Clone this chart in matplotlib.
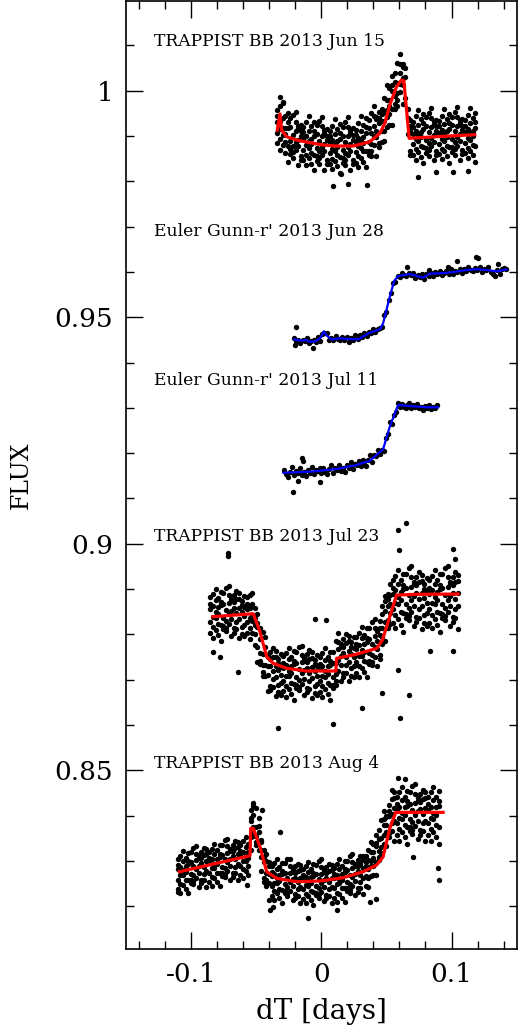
import numpy as np
import matplotlib
matplotlib.use('Agg')
import matplotlib.pyplot as plt
from matplotlib.ticker import MultipleLocator

# units: time in 1e-4 days, TRAPPIST flux in 1e-4, Euler flux and models in 1e-5

# ---- TRAPPIST BB 2013 Jun 15 : (time, [fluxes at that time])
jun15_rows = [
    (-336, [9957, 9907, 9930, 9884, 9945]), (-316, [9915, 9966, 9893, 9934, 9870]),
    (-296, [9940, 9880, 9973, 9903, 9918]), (-276, [9886, 9917, 9862, 9945, 9905]),
    (-256, [9917, 9842, 9930, 9877, 9950]), (-236, [9860, 9920, 9889, 9939, 9871]),
    (-216, [9903, 9864, 9946, 9879, 9851]), (-196, [9932, 9887, 9869, 9911, 9954]),
    (-176, [9877, 9923, 9836, 9892, 9917]), (-156, [9910, 9847, 9900, 9856, 9925]),
    (-136, [9920, 9870, 9893, 9847, 9908]), (-116, [9880, 9931, 9858, 9899, 9835]),
    (-96, [9911, 9851, 9944, 9874, 9889]), (-76, [9863, 9894, 9839, 9922, 9882]),
    (-56, [9899, 9824, 9912, 9859, 9932]), (-36, [9845, 9905, 9874, 9924, 9856]),
    (-16, [9890, 9851, 9933, 9866, 9838]), (4, [9921, 9876, 9858, 9900, 9943]),
    (24, [9867, 9913, 9826, 9882, 9907]), (44, [9901, 9838, 9891, 9847, 9916]),
    (64, [9912, 9862, 9885, 9839, 9900]), (84, [9872, 9923, 9850, 9891, 9827]),
    (104, [9904, 9844, 9937, 9867, 9882]), (124, [9857, 9888, 9833, 9916, 9876]),
    (144, [9894, 9819, 9907, 9854, 9927]), (164, [9841, 9901, 9870, 9920, 9852]),
    (184, [9887, 9848, 9930, 9863, 9835]), (204, [9920, 9875, 9857, 9899, 9942]),
    (224, [9867, 9913, 9826, 9882, 9907]), (244, [9902, 9839, 9892, 9848, 9917]),
    (264, [9914, 9864, 9887, 9841, 9902]), (284, [9877, 9928, 9855, 9896, 9832]),
    (304, [9911, 9851, 9944, 9874, 9889]), (324, [9866, 9897, 9842, 9925, 9885]),
    (344, [9906, 9831, 9919, 9866, 9939]), (364, [9857, 9917, 9886, 9936, 9868]),
    (384, [9907, 9868, 9950, 9883, 9855]), (404, [9944, 9899, 9881, 9923, 9966]),
    (424, [9897, 9943, 9856, 9912, 9937]), (444, [9939, 9876, 9929, 9885, 9954]),
    (464, [9960, 9910, 9933, 9887, 9948]), (484, [9933, 9984, 9911, 9952, 9888]),
    (504, [9980, 9920, 10013, 9943, 9958]), (524, [9948, 9979, 9924, 10007, 9967]),
    (544, [10000, 9925, 10013, 9960, 10033]), (564, [9960, 10020, 9989, 10039, 9971]),
    (584, [10018, 9979, 10061, 9994, 9966]), (604, [10060, 10015, 9997, 10039, 10082]),
    (624, [10012, 10058, 9971, 10027, 10052]), (644, [10030, 9985, 10050]),
    (664, [9960, 9905, 9940]), (684, [9921, 9858, 9911, 9867, 9936]),
    (704, [9932, 9882, 9905, 9859, 9920]), (724, [9893, 9944, 9871, 9912, 9848]),
    (744, [9925, 9865, 9958, 9888, 9903]), (764, [9878, 9909, 9854, 9937, 9897]),
    (784, [9915, 9840, 9928, 9875, 9948]), (804, [9862, 9922, 9891, 9941, 9873]),
    (824, [9908, 9869, 9951, 9884, 9856]), (844, [9940, 9895, 9877, 9919, 9962]),
    (864, [9887, 9933, 9846, 9902, 9927]), (884, [9921, 9858, 9911, 9867, 9936]),
    (904, [9933, 9883, 9906, 9860, 9921]), (924, [9894, 9945, 9872, 9913, 9849]),
    (944, [9926, 9866, 9959, 9889, 9904]), (964, [9879, 9910, 9855, 9938, 9898]),
    (984, [9916, 9841, 9929, 9876, 9949]), (1004, [9864, 9924, 9893, 9943, 9875]),
    (1024, [9910, 9871, 9953, 9886, 9858]), (1044, [9942, 9897, 9879, 9921, 9964]),
    (1064, [9889, 9935, 9848, 9904, 9929]), (1084, [9923, 9860, 9913, 9869, 9938]),
    (1104, [9935, 9885, 9908, 9862, 9923]), (1124, [9896, 9947, 9874, 9915, 9851]),
    (1144, [9928, 9868, 9961, 9891, 9906]), (1164, [9881, 9912, 9857, 9940, 9900]),
    (1180, [9918, 9843, 9931, 9878, 9951]),
]
jun15_extra = [(87, 9790), (151, 9816), (207, 9795), (348, 9791), (743, 9810),
               (884, 9821), (1012, 9821), (1126, 9823), (-316, 9987), (-290, 9976)]
jun15_model_t = [-337, -316, -304, -265, -189, -87, 16, 118, 245, 373, 450, 488, 526,
                 578, 616, 634, 675, 884, 1178]
jun15_model_f = [99132, 99486, 99130, 98985, 98912, 98852, 98801, 98779, 98779, 98875,
                 99059, 99280, 99684, 100088, 100236, 100220, 98949, 98985, 99029]

# ---- Euler Gunn-r' 2013 Jun 28
jun28_t = [-209, -195, -178, -160, -143, -126, -110, -93, -76, -59, -42, -26, -9, 8, 25,
           42, 59, 76, 93, 110, 127, 144, 161, 178, 195, 212, 229, 246, 263, 280, 297,
           314, 331, 348, 365, 382, 399, 416, 433, 450, 467, 484, 501, 518, 535, 552,
           569, 586, 603, 620, 637, 654, 671, 688, 705, 722, 739, 756, 773, 790, 807,
           824, 841, 858, 875, 892, 909, 926, 943, 960, 977, 994, 1011, 1028, 1045,
           1062, 1079, 1096, 1113, 1130, 1147, 1164, 1181, 1198, 1215, 1232, 1249,
           1266, 1283, 1300, 1317, 1334, 1351, 1368, 1385, 1402, 1419,
           -194, -200, -66, 659, 828, 973, 1042, 1185, 1203, 1356]
jun28_f = [94552, 94470, 94505, 94425, 94508, 94478, 94547, 94421, 94466, 94496, 94445,
           94570, 94480, 94627, 94658, 94641, 94504, 94539, 94486, 94582, 94528, 94494,
           94565, 94506, 94571, 94463, 94540, 94508, 94605, 94511, 94615, 94570, 94643,
           94590, 94677, 94650, 94743, 94667, 94732, 94761, 94795, 95040, 95120, 95375,
           95533, 95765, 95768, 95918, 95885, 95984, 95933, 95901, 95984, 95925, 95980,
           95859, 95923, 95877, 95956, 95852, 95956, 95915, 95971, 95904, 95991, 95953,
           96024, 95928, 95982, 96011, 95960, 96059, 95949, 96023, 96007, 96071, 95965,
           96058, 96012, 96105, 96048, 96011, 96089, 96038, 96106, 95997, 96072, 96037,
           96118, 95995, 95944, 95918, 96040, 95952, 96054, 96086, 96067,
           94791, 94386, 94313, 96101, 96042, 96116, 96248, 96322, 96300, 96174]
jun28_model_t = [-209, -150, -120, -87, -40, 0, 20, 40, 80, 143, 200, 284, 373, 450, 475,
                 526, 560, 590, 680, 782, 830, 910, 1000, 1114, 1200, 1267, 1350, 1421]
jun28_model_f = [94512, 94480, 94500, 94459, 94470, 94560, 94690, 94600, 94510, 94534,
                 94520, 94512, 94658, 94731, 94865, 95453, 95800, 95909, 95953, 95872,
                 95960, 95969, 95990, 96042, 96060, 96042, 96010, 96057]

# ---- Euler Gunn-r' 2013 Jul 11
jul11_t = [-283, -268, -253, -238, -223, -208, -193, -178, -163, -148, -133, -118, -103,
           -88, -73, -58, -43, -28, -13, 2, 17, 32, 47, 62, 77, 92, 107, 122, 137, 152,
           167, 182, 197, 212, 227, 242, 257, 272, 287, 302, 317, 332, 347, 362, 377,
           392, 407, 422, 437, 452, 467, 482, 497, 512, 527, 542, 557, 572, 587, 602,
           617, 632, 647, 662, 677, 692, 707, 722, 737, 752, 767, 782, 797, 812, 827,
           842, 857, 872, 887, -214, -150, -138, -176, -10]
jul11_f = [91628, 91529, 91481, 91593, 91684, 91506, 91613, 91559, 91661, 91527, 91589,
           91486, 91632, 91559, 91688, 91532, 91627, 91596, 91681, 91570, 91679, 91584,
           91538, 91653, 91747, 91571, 91681, 91631, 91740, 91614, 91682, 91586, 91739,
           91673, 91807, 91655, 91754, 91728, 91822, 91721, 91840, 91754, 91718, 91842,
           91952, 91809, 91951, 91933, 92070, 91972, 92069, 92052, 92344, 92416, 92685,
           92638, 92840, 92917, 93110, 93014, 93091, 93028, 92994, 93057, 93107, 92995,
           93055, 93019, 93075, 92991, 93023, 92957, 93040, 92993, 93068, 92972, 93026,
           93005, 93053, 91148, 91890, 91830, 91380, 91360]
jul11_model_t = [-291, -87, 118, 271, 373, 475, 526, 590, 680, 808, 897]
jul11_model_f = [91567, 91589, 91649, 91737, 91832, 92084, 92583, 93062, 93040, 93011,
                 93011]

# ---- TRAPPIST BB 2013 Jul 23
jul23_rows = [
    (-850, [8882, 8827, 8855, 8803, 8866]), (-830, [8839, 8889, 8816, 8862, 8792]),
    (-810, [8875, 8810, 8900, 8837, 8850]), (-790, [8823, 8860, 8799, 8881, 8844]),
    (-770, [8864, 8786, 8872, 8820, 8893]), (-750, [8812, 8867, 8836, 8892, 8819]),
    (-730, [8854, 8815, 8903, 8830, 8807]), (-710, [8886, 8845, 8822, 8869, 8906]),
    (-690, [8833, 8878, 8797, 8852, 8873]), (-670, [8871, 8804, 8857, 8813, 8887]),
    (-650, [8846, 8896, 8828, 8877, 8811]), (-630, [8891, 8834, 8791, 8858, 8879]),
    (-610, [8817, 8874, 8849, 8801, 8865]), (-590, [8860, 8821, 8885, 8840, 8796]),
    (-570, [8882, 8827, 8855, 8803, 8866]), (-550, [8836, 8886, 8813, 8859, 8789]),
    (-530, [8867, 8802, 8892, 8829, 8842]), (-510, [8800, 8837, 8776, 8858, 8821]),
    (-490, [8816, 8738, 8824, 8772, 8845]), (-470, [8734, 8789, 8758, 8814, 8741]),
    (-450, [8756, 8717, 8805, 8732, 8709]), (-430, [8773, 8732, 8709, 8756, 8793]),
    (-410, [8710, 8755, 8674, 8729, 8750]), (-390, [8745, 8678, 8731, 8687, 8761]),
    (-370, [8719, 8769, 8701, 8750, 8684]), (-350, [8763, 8706, 8663, 8730, 8751]),
    (-330, [8689, 8746, 8721, 8673, 8737]), (-310, [8731, 8692, 8756, 8711, 8667]),
    (-290, [8753, 8698, 8726, 8674, 8737]), (-270, [8709, 8759, 8686, 8732, 8662]),
    (-250, [8745, 8680, 8770, 8707, 8720]), (-230, [8693, 8730, 8669, 8751, 8714]),
    (-210, [8734, 8656, 8742, 8690, 8763]), (-190, [8681, 8736, 8705, 8761, 8688]),
    (-170, [8723, 8684, 8772, 8699, 8676]), (-150, [8755, 8714, 8691, 8738, 8775]),
    (-130, [8702, 8747, 8666, 8721, 8742]), (-110, [8740, 8673, 8726, 8682, 8756]),
    (-90, [8715, 8765, 8697, 8746, 8680]), (-70, [8760, 8703, 8660, 8727, 8748]),
    (-50, [8686, 8743, 8718, 8670, 8734]), (-30, [8729, 8690, 8754, 8709, 8665]),
    (-10, [8751, 8696, 8724, 8672, 8735]), (10, [8708, 8758, 8685, 8731, 8661]),
    (30, [8744, 8679, 8769, 8706, 8719]), (50, [8692, 8729, 8668, 8750, 8713]),
    (70, [8733, 8655, 8741, 8689, 8762]), (90, [8681, 8736, 8705, 8761, 8688]),
    (110, [8736, 8697, 8785, 8712, 8689]), (130, [8784, 8743, 8720, 8767, 8804]),
    (150, [8733, 8778, 8697, 8752, 8773]), (170, [8773, 8706, 8759, 8715, 8789]),
    (190, [8750, 8800, 8732, 8781, 8715]), (210, [8797, 8740, 8697, 8764, 8785]),
    (230, [8725, 8782, 8757, 8709, 8773]), (250, [8770, 8731, 8795, 8750, 8706]),
    (270, [8794, 8739, 8767, 8715, 8778]), (290, [8753, 8803, 8730, 8776, 8706]),
    (310, [8791, 8726, 8816, 8753, 8766]), (330, [8741, 8778, 8717, 8799, 8762]),
    (350, [8784, 8706, 8792, 8740, 8813]), (370, [8734, 8789, 8758, 8814, 8741]),
    (390, [8779, 8740, 8828, 8755, 8732]), (410, [8814, 8773, 8750, 8797, 8834]),
    (430, [8767, 8812, 8731, 8786, 8807]), (450, [8813, 8746, 8799, 8755, 8829]),
    (470, [8813, 8863, 8795, 8844, 8778]), (490, [8885, 8828, 8785, 8852, 8873]),
    (510, [8831, 8888, 8863, 8815, 8879]), (530, [8887, 8848, 8912, 8867, 8823]),
    (550, [8921, 8855, 8888, 8826, 8902]), (570, [8869, 8929, 8842, 8897, 8813]),
    (590, [8912, 8834, 8942, 8867, 8882]), (610, [8850, 8894, 8821, 8920, 8875]),
    (630, [8899, 8806, 8909, 8846, 8934]), (650, [8837, 8903, 8866, 8933, 8845]),
    (670, [8887, 8840, 8946, 8858, 8831]), (690, [8926, 8876, 8849, 8905, 8950]),
    (710, [8862, 8916, 8819, 8885, 8910]), (730, [8908, 8827, 8891, 8838, 8927]),
    (750, [8878, 8938, 8856, 8915, 8836]), (770, [8932, 8863, 8812, 8892, 8917]),
    (790, [8843, 8911, 8881, 8824, 8900]), (810, [8894, 8848, 8924, 8870, 8818]),
    (830, [8921, 8855, 8888, 8826, 8902]), (850, [8869, 8929, 8842, 8897, 8813]),
    (870, [8912, 8834, 8942, 8867, 8882]), (890, [8850, 8894, 8821, 8920, 8875]),
    (910, [8899, 8806, 8909, 8846, 8934]), (930, [8837, 8903, 8866, 8933, 8845]),
    (950, [8887, 8840, 8946, 8858, 8831]), (970, [8926, 8876, 8849, 8905, 8950]),
    (990, [8862, 8916, 8819, 8885, 8910]), (1010, [8908, 8827, 8891, 8838, 8927]),
    (1030, [8878, 8938, 8856, 8915, 8836]), (1050, [8932, 8863, 8812, 8892, 8917]),
]
jul23_extra = [(-712, 8979), (-715, 8972), (-636, 8716), (-828, 8762), (-777, 8751),
               (-329, 8593), (92, 8601), (-48, 8834), (36, 8831), (590, 9030),
               (654, 9045), (600, 8986), (1012, 8989), (1027, 8967), (603, 8615),
               (675, 8667), (590, 8722), (1012, 8764), (835, 8763), (463, 8670),
               (310, 8637)]
jul23_model_t = [-832, -521, -470, -418, -368, -265, -112, 113, 118, 271, 425, 470, 514,
                 578, 731, 1050]
jul23_model_f = [88389, 88455, 88058, 87506, 87360, 87250, 87190, 87190, 87470, 87560,
                 87690, 87874, 88278, 88867, 88883, 88889]

# ---- TRAPPIST BB 2013 Aug 4
aug4_rows = [
    (-1100, [8303, 8258, 8281, 8237, 8290]), (-1080, [8268, 8311, 8249, 8287, 8229]),
    (-1060, [8300, 8246, 8322, 8269, 8279]), (-1040, [8258, 8289, 8238, 8307, 8276]),
    (-1020, [8293, 8228, 8300, 8257, 8318]), (-1000, [8252, 8298, 8272, 8319, 8258]),
    (-980, [8288, 8255, 8329, 8268, 8248]), (-960, [8316, 8282, 8262, 8302, 8333]),
    (-940, [8274, 8311, 8243, 8289, 8307]), (-920, [8306, 8250, 8295, 8258, 8320]),
    (-900, [8287, 8328, 8271, 8312, 8257]), (-880, [8326, 8278, 8242, 8299, 8316]),
    (-860, [8319, 8274, 8297, 8253, 8306]), (-840, [8284, 8327, 8265, 8303, 8245]),
    (-820, [8315, 8261, 8337, 8284, 8294]), (-800, [8274, 8305, 8254, 8323, 8292]),
    (-780, [8309, 8244, 8316, 8273, 8334]), (-760, [8267, 8313, 8287, 8334, 8273]),
    (-740, [8304, 8271, 8345, 8284, 8264]), (-720, [8332, 8298, 8278, 8318, 8349]),
    (-700, [8289, 8326, 8258, 8304, 8322]), (-680, [8321, 8265, 8310, 8273, 8335]),
    (-660, [8303, 8344, 8287, 8328, 8273]), (-640, [8341, 8293, 8257, 8314, 8331]),
    (-620, [8334, 8289, 8312, 8268, 8321]), (-600, [8300, 8343, 8281, 8319, 8261]),
    (-580, [8331, 8277, 8353, 8300, 8310]), (-560, [8289, 8320, 8269, 8338, 8307]),
    (-540, [8388, 8323, 8395, 8352, 8413]), (-520, [8355, 8401, 8375, 8422, 8361]),
    (-500, [8375, 8342, 8416, 8355, 8335]), (-480, [8377, 8343, 8323, 8363, 8394]),
    (-460, [8308, 8345, 8277, 8323, 8341]), (-440, [8309, 8253, 8298, 8261, 8323]),
    (-420, [8274, 8315, 8258, 8299, 8244]), (-400, [8298, 8250, 8214, 8271, 8288]),
    (-380, [8289, 8244, 8267, 8223, 8276]), (-360, [8252, 8295, 8233, 8271, 8213]),
    (-340, [8282, 8228, 8304, 8251, 8261]), (-320, [8238, 8269, 8218, 8287, 8256]),
    (-300, [8271, 8206, 8278, 8235, 8296]), (-280, [8228, 8274, 8248, 8295, 8234]),
    (-260, [8262, 8229, 8303, 8242, 8222]), (-240, [8288, 8254, 8234, 8274, 8305]),
    (-220, [8244, 8281, 8213, 8259, 8277]), (-200, [8274, 8218, 8263, 8226, 8288]),
    (-180, [8253, 8294, 8237, 8278, 8223]), (-160, [8290, 8242, 8206, 8263, 8280]),
    (-140, [8282, 8237, 8260, 8216, 8269]), (-120, [8246, 8289, 8227, 8265, 8207]),
    (-100, [8276, 8222, 8298, 8245, 8255]), (-80, [8233, 8264, 8213, 8282, 8251]),
    (-60, [8267, 8202, 8274, 8231, 8292]), (-40, [8224, 8270, 8244, 8291, 8230]),
    (-20, [8259, 8226, 8300, 8239, 8219]), (0, [8286, 8252, 8232, 8272, 8303]),
    (20, [8242, 8279, 8211, 8257, 8275]), (40, [8273, 8217, 8262, 8225, 8287]),
    (60, [8253, 8294, 8237, 8278, 8223]), (80, [8290, 8242, 8206, 8263, 8280]),
    (100, [8284, 8239, 8262, 8218, 8271]), (120, [8249, 8292, 8230, 8268, 8210]),
    (140, [8281, 8227, 8303, 8250, 8260]), (160, [8239, 8270, 8219, 8288, 8257]),
    (180, [8275, 8210, 8282, 8239, 8300]), (200, [8233, 8279, 8253, 8300, 8239]),
    (220, [8269, 8236, 8310, 8249, 8229]), (240, [8298, 8264, 8244, 8284, 8315]),
    (260, [8255, 8292, 8224, 8270, 8288]), (280, [8288, 8232, 8277, 8240, 8302]),
    (300, [8269, 8310, 8253, 8294, 8239]), (320, [8311, 8263, 8227, 8284, 8301]),
    (340, [8311, 8266, 8289, 8245, 8298]), (360, [8282, 8325, 8263, 8301, 8243]),
    (380, [8320, 8266, 8342, 8289, 8299]), (400, [8289, 8320, 8269, 8338, 8307]),
    (420, [8333, 8268, 8340, 8297, 8358]), (440, [8302, 8348, 8322, 8369, 8308]),
    (460, [8350, 8317, 8391, 8330, 8310]), (480, [8392, 8358, 8338, 8378, 8409]),
    (500, [8363, 8400, 8332, 8378, 8396]), (520, [8409, 8353, 8398, 8361, 8423]),
    (540, [8404, 8457, 8383, 8436, 8365]), (560, [8452, 8389, 8343, 8417, 8439]),
    (580, [8441, 8383, 8413, 8356, 8425]), (600, [8395, 8451, 8370, 8419, 8344]),
    (620, [8434, 8363, 8462, 8393, 8406]), (640, [8378, 8418, 8352, 8441, 8401]),
    (660, [8422, 8337, 8431, 8375, 8454]), (680, [8366, 8426, 8392, 8453, 8374]),
    (700, [8412, 8369, 8465, 8385, 8359]), (720, [8447, 8402, 8376, 8428, 8469]),
    (740, [8389, 8438, 8349, 8409, 8432]), (760, [8430, 8357, 8415, 8367, 8448]),
    (780, [8404, 8457, 8383, 8436, 8365]), (800, [8452, 8389, 8343, 8417, 8439]),
    (820, [8441, 8383, 8413, 8356, 8425]), (840, [8395, 8451, 8370, 8419, 8344]),
    (860, [8434, 8363, 8462, 8393, 8406]), (880, [8378, 8418, 8352, 8441, 8401]),
    (900, [8422, 8337, 8431, 8375, 8454]),
]
aug4_extra = [(-316, 8364), (-393, 8191), (-368, 8199), (-100, 8173), (118, 8191),
              (373, 8209), (424, 8216), (897, 8284), (900, 8258), (705, 8308),
              (590, 8482), (641, 8481), (-1096, 8232), (-572, 8246), (-521, 8427),
              (-457, 8412)]
aug4_model_t = [-1088, -546, -541, -521, -470, -418, -342, -189, -10, 169, 322, 425, 475,
                526, 572, 935]
aug4_model_f = [82759, 83113, 83717, 83717, 83311, 82759, 82613, 82539, 82554, 82627,
                82759, 82907, 83090, 83717, 84070, 84070]

labels = ["TRAPPIST BB 2013 Jun 15", "Euler Gunn-r' 2013 Jun 28",
          "Euler Gunn-r' 2013 Jul 11", "TRAPPIST BB 2013 Jul 23",
          "TRAPPIST BB 2013 Aug 4"]
label_y = [1.0108, 0.9689, 0.9361, 0.9015, 0.8515]


def flatten(rows, extra):
    t, f = [], []
    for ti, fs in rows:
        for fi in fs:
            t.append(ti)
            f.append(fi)
    for ti, fi in extra:
        t.append(ti)
        f.append(fi)
    return np.array(t) * 1e-4, np.array(f) * 1e-4


plt.rcParams['font.family'] = 'DejaVu Serif'

fig = plt.figure(figsize=(5.25, 10.32), dpi=100)
ax = fig.add_axes([0.2394, 0.0804, 0.7448, 0.9191])

dot = dict(s=15, color='black', linewidths=0, zorder=2)

t, f = flatten(jun15_rows, jun15_extra)
ax.scatter(t, f, **dot)
ax.plot(np.array(jun15_model_t) * 1e-4, np.array(jun15_model_f) * 1e-5, color='red', lw=2.3, zorder=3)

ax.scatter(np.array(jun28_t) * 1e-4, np.array(jun28_f) * 1e-5, **dot)
ax.plot(np.array(jun28_model_t) * 1e-4, np.array(jun28_model_f) * 1e-5, color='blue', lw=1.6, zorder=3)

ax.scatter(np.array(jul11_t) * 1e-4, np.array(jul11_f) * 1e-5, **dot)
ax.plot(np.array(jul11_model_t) * 1e-4, np.array(jul11_model_f) * 1e-5, color='blue', lw=1.6, zorder=3)

t, f = flatten(jul23_rows, jul23_extra)
ax.scatter(t, f, **dot)
ax.plot(np.array(jul23_model_t) * 1e-4, np.array(jul23_model_f) * 1e-5, color='red', lw=2.3, zorder=3)

t, f = flatten(aug4_rows, aug4_extra)
ax.scatter(t, f, **dot)
ax.plot(np.array(aug4_model_t) * 1e-4, np.array(aug4_model_f) * 1e-5, color='red', lw=2.3, zorder=3)

for lab, y in zip(labels, label_y):
    ax.text(-0.1285, y, lab, fontsize=12.3, va='center', ha='left', zorder=4)

ax.set_xlim(-0.15, 0.15)
ax.set_ylim(0.81053, 1.01991)
ax.xaxis.set_major_locator(MultipleLocator(0.1))
ax.xaxis.set_minor_locator(MultipleLocator(0.02))
ax.yaxis.set_major_locator(MultipleLocator(0.05))
ax.yaxis.set_minor_locator(MultipleLocator(0.01))
ax.tick_params(which='both', direction='in', top=True, right=True, width=1)
ax.tick_params(which='major', length=12, labelsize=19, pad=9)
ax.tick_params(which='minor', length=6)
for sp in ax.spines.values():
    sp.set_linewidth(1.2)
ax.xaxis.set_major_formatter(plt.FuncFormatter(lambda v, p: '%g' % round(v, 3)))
ax.yaxis.set_major_formatter(plt.FuncFormatter(lambda v, p: '%g' % round(v, 3)))

ax.set_xlabel('dT [days]', fontsize=20, labelpad=8)
ax.set_ylabel('FLUX', fontsize=17, labelpad=16)

fig.savefig('out.png', dpi=100)
